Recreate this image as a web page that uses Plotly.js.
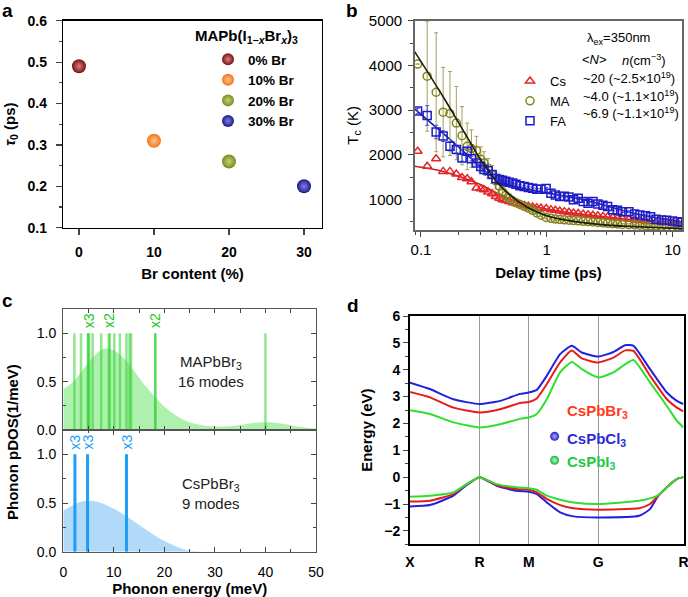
<!DOCTYPE html>
<html><head><meta charset="utf-8">
<script src="https://cdn.plot.ly/plotly-3.0.1.min.js"></script>
<style>html,body{margin:0;padding:0;background:#fff}#chart{width:688px;height:597px}</style>
</head><body><div id="chart"></div>
<script>
// ---------- Panel a ----------
const brContent = [0, 10, 20, 30];
const tau0 = [0.49, 0.31, 0.26, 0.20];
const brLabels = ['0% Br', '10% Br', '20% Br', '30% Br'];
const brColors = ['#7a1212', '#f27418', '#7c8a1c', '#1a1a8a'];
const brShine = ['#d88080', '#ffc58f', '#c8d07a', '#8080e0'];
const aLegendTitle = 'MAPb(I<sub>1−<i>x</i></sub>Br<sub><i>x</i></sub>)<sub>3</sub>';

// ---------- Panel b ----------
const delay = [0.094,0.112,0.132,0.150,0.170,0.191,0.212,0.233,0.252,0.276,0.299,0.317,0.342,0.368,0.394,0.420,0.444,0.472,0.502,0.535,0.569,0.612,0.663,0.714,0.771,0.833,0.900,0.990,1.08,1.17,1.27,1.38,1.50,1.63,1.78,1.95,2.13,2.33,2.55,2.80,3.05,3.35,3.65,4.0,4.5,5.0,5.5,6.1,6.7,7.4,8.2,9.0,10.0,11.0,12.0];
const tcCs = [2080,1745,1915,1630,1630,1570,1495,1465,1400,1260,1240,1220,1170,1130,1070,1030,995,980,960,930,910,890,870,850,835,820,810,800,775,760,745,730,715,700,690,675,660,650,640,625,615,600,590,575,560,545,535,520,510,500,490,480,470,460,450];
const tcMA = [4030,3760,3400,2955,2925,2710,2430,2190,2140,2095,1900,1820,1700,1560,1420,1300,1180,1090,1030,970,930,890,850,810,760,700,650,600,580,565,555,548,540,532,525,515,508,500,490,480,470,460,455,445,440,432,428,420,415,410,402,396,390,385,380];
const errMA = [0,1230,1330,1000,940,820,650,520,420,320,280,250,220,200,180,160,140,120,100,90,80,70,60,50,45,40,35,30,25,25,20,20,20,20,20,20,20,20,20,20,20,20,20,20,20,20,20,20,20,20,20,20,20,20,20];
const tcFA = [2980,2880,2510,2420,2190,2120,1930,2080,1915,1820,1740,1670,1645,1560,1470,1450,1430,1410,1390,1370,1345,1310,1290,1270,1255,1230,1230,1250,1140,1100,1070,1075,1060,995,1030,960,920,955,900,875,845,770,760,730,730,680,655,640,615,560,545,540,520,505,495];
const errFA = [60,220,150,120,100,80,70,60,50,50,40,40,30,30,25,25,20,20,20,20,20,20,20,20,20,20,20,20,20,20,20,20,20,20,20,20,20,20,20,20,20,20,20,20,20,20,20,20,20,20,20,20,20,20,20];
const fitT = [0.089,0.15,0.2,0.25,0.3,0.35,0.4,0.5,0.7,1,1.5,2,3,5,8,12];
const fitCs = [1745,1630,1520,1420,1330,1230,1150,1020,890,790,710,665,610,545,490,450];
const fitMA = [4310,3300,2710,2250,1880,1620,1400,1120,830,640,530,480,430,395,370,350];
const fitFA = [3030,2480,2170,1920,1720,1560,1440,1330,1230,1150,1060,990,860,690,580,500];
const bNames = ['Cs', 'MA', 'FA'];
const bDensity = ['~20 (~2.5×10<sup>19</sup>)', '~4.0 (~1.1×10<sup>19</sup>)', '~6.9 (~1.1×10<sup>19</sup>)'];

// ---------- Panel c ----------
const energyGrid = [0,2,4,6,8,10,12,14,16,18,20,22,24,26,28,30,32,34,36,38,40,42,44,46,48,50];
const dosMA = [0.42,0.50,0.63,0.76,0.84,0.82,0.74,0.61,0.47,0.35,0.24,0.16,0.10,0.065,0.045,0.035,0.035,0.045,0.06,0.075,0.08,0.075,0.06,0.04,0.025,0.015];
const dosCs = [0.42,0.48,0.52,0.52,0.49,0.44,0.38,0.31,0.24,0.17,0.11,0.06,0.02,0.005,0,0,0,0,0,0,0,0,0,0,0,0];
const modesMA = [2.2,3.5,4.9,4.9,5.1,5.8,7.5,9.0,9.2,10.1,11.2,12.5,13.1,13.4,18.2,18.2,40.0];
const modesCs = [2.3,4.8,12.5];
const degenMA = [5.0, 9.1, 18.2];
const degenMAText = ['x3', 'x2', 'x2'];
const degenCs = [2.3, 4.8, 12.5];
const degenCsText = ['x3', 'x3', 'x3'];

// ---------- Panel d ----------
const kLabels = ['X', 'R', 'M', 'G', 'R'];
const kTicks = [0, 0.707, 1.207, 1.914, 2.78];
const kCB = [0,0.203,0.441,0.707,0.916,1.119,1.207,1.289,1.390,1.526,1.645,1.747,1.914,2.068,2.187,2.272,2.441,2.611,2.713,2.78];
const cbCl = [3.52,3.28,2.90,2.72,2.84,3.10,3.15,3.25,3.77,4.58,4.89,4.64,4.49,4.66,4.91,4.89,4.02,3.15,2.84,2.72];
const cbBr = [3.17,2.97,2.59,2.41,2.53,2.76,2.80,2.93,3.46,4.27,4.72,4.42,4.27,4.45,4.72,4.70,3.77,2.90,2.59,2.45];
const cbI  = [2.49,2.35,2.04,1.85,1.97,2.17,2.22,2.35,2.90,3.90,4.29,4.02,3.71,3.90,4.20,4.36,3.52,2.65,2.10,1.85];
const kVB = [0,0.203,0.441,0.577,0.707,0.882,1.085,1.207,1.289,1.390,1.526,1.662,1.914,2.33,2.44,2.525,2.645,2.713,2.78];
const vbCl = [-1.09,-1.04,-0.69,-0.29,0,-0.32,-0.51,-0.54,-0.63,-0.94,-1.31,-1.46,-1.50,-1.44,-1.19,-0.69,-0.26,-0.07,0];
const vbBr = [-0.91,-0.88,-0.63,-0.27,0,-0.29,-0.44,-0.47,-0.57,-0.81,-1.04,-1.16,-1.21,-1.16,-1.00,-0.69,-0.26,-0.07,0];
const vbI  = [-0.73,-0.69,-0.57,-0.25,0,-0.26,-0.38,-0.41,-0.47,-0.69,-0.84,-0.94,-1.00,-0.88,-0.79,-0.67,-0.26,-0.07,0];
const dNames = ['CsPbBr<sub>3</sub>', 'CsPbCl<sub>3</sub>', 'CsPbI<sub>3</sub>'];
const dKeyK = [1.47, 1.47];
const dKeyE = [1.52, 0.63];

// ---------- Build ----------
const FONT = 'Liberation Sans, Arial, Helvetica, sans-serif';
const traces = [];

// a
brContent.forEach((x, i) => {
  traces.push({
    x: [x], y: [tau0[i]], xaxis: 'x', yaxis: 'y', type: 'scatter', mode: 'markers',
    name: brLabels[i], legend: 'legend',
    marker: {size: 14, color: brColors[i], gradient: {type: 'radial', color: brShine[i]}}
  });
});

// b
const bColors = ['#e3262a', '#84841c', '#1c1cc8'];
traces.push({x: fitT, y: fitCs, xaxis: 'x2', yaxis: 'y2', mode: 'lines', line: {color: '#c81e1e', width: 1.6, shape: 'spline'}, showlegend: false, hoverinfo: 'skip'});
traces.push({x: fitT, y: fitFA, xaxis: 'x2', yaxis: 'y2', mode: 'lines', line: {color: '#1a1aa8', width: 1.6, shape: 'spline'}, showlegend: false, hoverinfo: 'skip'});
traces.push({x: delay, y: tcCs, xaxis: 'x2', yaxis: 'y2', mode: 'markers', name: bNames[0], legend: 'legend2',
  marker: {symbol: 'triangle-up-open', size: 8, color: bColors[0], line: {width: 1.5}}});
traces.push({x: delay, y: tcMA, xaxis: 'x2', yaxis: 'y2', mode: 'markers', name: bNames[1], legend: 'legend2',
  error_y: {type: 'data', array: errMA, visible: true, color: '#a0a060', thickness: 1, width: 2},
  marker: {symbol: 'circle-open', size: 8, color: bColors[1], line: {width: 1.5}}});
traces.push({x: delay, y: tcFA, xaxis: 'x2', yaxis: 'y2', mode: 'markers', name: bNames[2], legend: 'legend2',
  error_y: {type: 'data', array: errFA, visible: true, color: '#5050d0', thickness: 1, width: 2},
  marker: {symbol: 'square-open', size: 8, color: bColors[2], line: {width: 1.5}}});
traces.push({x: fitT, y: fitMA, xaxis: 'x2', yaxis: 'y2', mode: 'lines', line: {color: '#1e1e08', width: 1.6, shape: 'spline'}, showlegend: false, hoverinfo: 'skip'});

// c
function sticks(vals) {
  const xs = [], ys = [];
  vals.forEach(v => { xs.push(v, v, null); ys.push(0, 1, null); });
  return {xs, ys};
}
traces.push({x: energyGrid, y: dosMA, xaxis: 'x3', yaxis: 'y3', mode: 'lines', fill: 'tozeroy',
  fillcolor: 'rgba(120,230,120,0.6)', line: {width: 0, shape: 'spline'}, showlegend: false, hoverinfo: 'skip'});
const sMA = sticks(modesMA);
traces.push({x: sMA.xs, y: sMA.ys, xaxis: 'x3', yaxis: 'y3', mode: 'lines',
  line: {color: 'rgba(50,210,50,0.55)', width: 2.5}, showlegend: false, hoverinfo: 'skip'});
traces.push({x: energyGrid, y: dosCs, xaxis: 'x4', yaxis: 'y4', mode: 'lines', fill: 'tozeroy',
  fillcolor: 'rgba(150,205,245,0.75)', line: {width: 0, shape: 'spline'}, showlegend: false, hoverinfo: 'skip'});
const sCs = sticks(modesCs);
traces.push({x: sCs.xs, y: sCs.ys, xaxis: 'x4', yaxis: 'y4', mode: 'lines',
  line: {color: '#1e9ef5', width: 3}, showlegend: false, hoverinfo: 'skip'});

// d
const dColors = {Cl: '#2020e0', Br: '#e61c1c', I: '#2ee02e'};
[[cbI, dColors.I], [cbBr, dColors.Br], [cbCl, dColors.Cl]].forEach(([e, c]) => {
  traces.push({x: kCB, y: e, xaxis: 'x5', yaxis: 'y5', mode: 'lines', line: {color: c, width: 2, shape: 'spline', smoothing: 0.5}, showlegend: false, hoverinfo: 'skip'});
});
[[vbCl, dColors.Cl], [vbBr, dColors.Br], [vbI, dColors.I]].forEach(([e, c]) => {
  traces.push({x: kVB, y: e, xaxis: 'x5', yaxis: 'y5', mode: 'lines', line: {color: c, width: 2, shape: 'spline', smoothing: 0.5}, showlegend: false, hoverinfo: 'skip'});
});
traces.push({x: dKeyK, y: dKeyE, xaxis: 'x5', yaxis: 'y5', mode: 'markers', showlegend: false, hoverinfo: 'skip',
  marker: {size: 9, color: ['#2020c8', '#20b040'], gradient: {type: 'radial', color: ['#b0b0ff', '#b0ffc0']}}});

// ---------- Layout ----------
const px = v => v / 688, py = v => 1 - v / 597;
const tickFontB = {family: FONT, size: 14, color: '#000', weight: 'bold'};
const tickFont = {family: FONT, size: 14, color: '#000'};
const titleB = {family: FONT, size: 15, color: '#000', weight: 'bold'};

const annotations = [
  {text: 'a', x: px(0), y: py(10), xref: 'paper', yref: 'paper', xanchor: 'left', yanchor: 'middle', showarrow: false, font: {family: FONT, size: 19, weight: 'bold'}},
  {text: 'b', x: px(344), y: py(10), xref: 'paper', yref: 'paper', xanchor: 'left', yanchor: 'middle', showarrow: false, font: {family: FONT, size: 19, weight: 'bold'}},
  {text: 'c', x: px(0), y: py(300), xref: 'paper', yref: 'paper', xanchor: 'left', yanchor: 'middle', showarrow: false, font: {family: FONT, size: 19, weight: 'bold'}},
  {text: 'd', x: px(345), y: py(305), xref: 'paper', yref: 'paper', xanchor: 'left', yanchor: 'middle', showarrow: false, font: {family: FONT, size: 19, weight: 'bold'}},
  // a legend title
  {text: aLegendTitle, x: px(193), y: py(37), xref: 'paper', yref: 'paper', xanchor: 'left', yanchor: 'middle', showarrow: false, font: {family: FONT, size: 15, weight: 'bold'}},
  // b legend header & columns
  {text: 'λ<sub>ex</sub>=350nm', x: px(585), y: py(39), xref: 'paper', yref: 'paper', xanchor: 'left', yanchor: 'middle', showarrow: false, font: {family: FONT, size: 13}},
  {text: '&lt;<i>N</i>&gt;', x: px(580), y: py(60), xref: 'paper', yref: 'paper', xanchor: 'left', yanchor: 'middle', showarrow: false, font: {family: FONT, size: 13}},
  {text: '<i>n</i>(cm<sup>−3</sup>)', x: px(620), y: py(60), xref: 'paper', yref: 'paper', xanchor: 'left', yanchor: 'middle', showarrow: false, font: {family: FONT, size: 13}},
  // c
  {text: 'Phonon pDOS(1/meV)', x: px(12), y: py(442), xref: 'paper', yref: 'paper', xanchor: 'center', yanchor: 'middle', textangle: -90, showarrow: false, font: titleB},
  {text: 'MAPbBr<sub>3</sub><br>16 modes', x: 29.3, y: 0.6, xref: 'x3', yref: 'y3', xanchor: 'center', yanchor: 'middle', showarrow: false, font: {family: FONT, size: 15, color: '#222'}},
  {text: 'CsPbBr<sub>3</sub><br>9 modes', x: 29.3, y: 0.6, xref: 'x4', yref: 'y4', xanchor: 'center', yanchor: 'middle', showarrow: false, font: {family: FONT, size: 15, color: '#222'}}
];
bDensity.forEach((t, i) => annotations.push({text: t, x: px(581), y: py(78 + 17.5 * i), xref: 'paper', yref: 'paper', xanchor: 'left', yanchor: 'middle', showarrow: false, font: {family: FONT, size: 13}}));
degenMA.forEach((e, i) => annotations.push({text: degenMAText[i], x: e, y: 1.03, xref: 'x3', yref: 'y3', textangle: -90, xanchor: 'center', yanchor: 'bottom', showarrow: false, font: {family: FONT, size: 14, color: '#22c822'}}));
degenCs.forEach((e, i) => annotations.push({text: degenCsText[i], x: e, y: 1.03, xref: 'x4', yref: 'y4', textangle: -90, xanchor: 'center', yanchor: 'bottom', showarrow: false, font: {family: FONT, size: 14, color: '#1e9ef5'}}));
const dLabelColors = ['#ff3a1a', '#2a2ad8', '#22c844'];
const dLabelE = [2.45, 1.42, 0.55];
dNames.forEach((t, i) => annotations.push({text: t, x: 1.58, y: dLabelE[i], xref: 'x5', yref: 'y5', xanchor: 'left', yanchor: 'middle', showarrow: false, font: {family: FONT, size: 15, weight: 'bold', color: dLabelColors[i]}}));

const layout = {
  width: 688, height: 597, margin: {l: 0, r: 0, t: 0, b: 0},
  paper_bgcolor: '#fff', plot_bgcolor: 'rgba(0,0,0,0)',
  font: {family: FONT, color: '#000'},
  showlegend: true,
  // a
  xaxis: {domain: [px(63.3), px(321.7)], range: [-2.09, 32.36], anchor: 'y', tickvals: [0, 10, 20, 30], ticks: 'outside', ticklen: 6, tickwidth: 1.2,
    ticklabelstandoff: 5,
    showline: true, linecolor: '#000', linewidth: 1.5, mirror: true, showgrid: false, zeroline: false, tickfont: tickFontB,
    title: {text: 'Br content (%)', font: titleB, standoff: 9}},
  yaxis: {domain: [py(227.7), py(20.7)], range: [0.1, 0.6], anchor: 'x', dtick: 0.1, tickformat: '.1f', ticks: 'outside', ticklen: 6, tickwidth: 1.2,
    ticklabelstandoff: 6,
    minor: {dtick: 0.05, ticks: 'outside', ticklen: 3, showgrid: false},
    showline: true, linecolor: '#000', linewidth: 1.5, mirror: true, showgrid: false, zeroline: false, tickfont: tickFontB,
    title: {text: '<i>τ</i><sub>0</sub> (ps)', font: {family: FONT, size: 15, color: '#000', weight: 'bold'}, standoff: 8}},
  // b
  xaxis2: {domain: [px(414.7), px(682.3)], type: 'log', range: [-1.05, 1.078], anchor: 'y2', dtick: 1, ticks: 'outside', ticklen: 5,
    minor: {dtick: 'D1', ticks: 'outside', ticklen: 3, showgrid: false},
    showline: true, linecolor: '#666', linewidth: 1.5, mirror: true, showgrid: false, zeroline: false, tickfont: {family: FONT, size: 15},
    title: {text: 'Delay time (ps)', font: titleB, standoff: 11}},
  yaxis2: {domain: [py(230), py(20.7)], range: [320, 5000], anchor: 'x2', tick0: 0, dtick: 1000, ticks: 'outside', ticklen: 5,
    ticklabelstandoff: 3,
    minor: {dtick: 500, ticks: 'outside', ticklen: 3, showgrid: false},
    showline: true, linecolor: '#666', linewidth: 1.5, mirror: true, showgrid: false, zeroline: false, tickfont: {family: FONT, size: 15},
    title: {text: 'T<sub>c</sub> (K)', font: {family: FONT, size: 15, color: '#000'}, standoff: 6}},
  // c top
  xaxis3: {domain: [px(63.3), px(316)], range: [0, 50], anchor: 'y3', dtick: 5, ticks: 'inside', ticklen: 4, showticklabels: false,
    showline: true, linecolor: '#555', linewidth: 1.3, mirror: 'ticks', showgrid: false, zeroline: false},
  yaxis3: {domain: [py(430), py(309)], range: [0, 1.25], anchor: 'x3', dtick: 0.5, tickformat: '.1f', ticks: 'inside', ticklen: 5,
    ticklabelstandoff: 3,
    minor: {dtick: 0.25, ticks: 'inside', ticklen: 3, showgrid: false},
    showline: true, linecolor: '#555', linewidth: 1.3, mirror: 'ticks', showgrid: false, zeroline: false, tickfont: tickFont},
  // c bottom
  xaxis4: {domain: [px(63.3), px(316)], range: [0, 50], anchor: 'y4', dtick: 10, ticks: 'inside', ticklen: 5,
    ticklabelstandoff: 7,
    minor: {dtick: 5, ticks: 'inside', ticklen: 3, showgrid: false},
    showline: true, linecolor: '#555', linewidth: 1.3, mirror: 'ticks', showgrid: false, zeroline: false, tickfont: tickFont,
    title: {text: 'Phonon energy (meV)', font: titleB, standoff: 8}},
  yaxis4: {domain: [py(551.7), py(430)], range: [0, 1.25], anchor: 'x4', dtick: 0.5, tickformat: '.1f', ticks: 'inside', ticklen: 5,
    ticklabelstandoff: 3,
    minor: {dtick: 0.25, ticks: 'inside', ticklen: 3, showgrid: false},
    showline: true, linecolor: '#555', linewidth: 1.3, mirror: 'ticks', showgrid: false, zeroline: false, tickfont: tickFont},
  // d
  xaxis5: {domain: [px(410), px(683.5)], range: [0, 2.7805], anchor: 'y5', tickvals: kTicks, ticktext: kLabels, ticks: '',
    ticklabelstandoff: 4, ticklabeloverflow: 'allow',
    showline: true, linecolor: '#000', linewidth: 2, mirror: true, showgrid: true, gridcolor: '#9a9a9a', gridwidth: 1.3, zeroline: false, tickfont: tickFontB},
  yaxis5: {domain: [py(544.3), py(316)], range: [-2.5, 6], anchor: 'x5', dtick: 1, ticks: 'outside', ticklen: 5,
    minor: {dtick: 0.5, ticks: 'outside', ticklen: 3, showgrid: false},
    showline: true, linecolor: '#000', linewidth: 2, mirror: true, showgrid: false, zeroline: false, tickfont: tickFontB,
    title: {text: 'Energy (eV)', font: titleB, standoff: 8}},
  legend: {x: px(208), y: py(44), xanchor: 'left', yanchor: 'top', bgcolor: 'rgba(0,0,0,0)', borderwidth: 0,
    font: {family: FONT, size: 13.5, weight: 'bold'}, tracegroupgap: 0, itemsizing: 'constant'},
  legend2: {x: px(510), y: py(66), xanchor: 'left', yanchor: 'top', bgcolor: 'rgba(0,0,0,0)', borderwidth: 0,
    font: {family: FONT, size: 13}, tracegroupgap: 0},
  annotations: annotations
};

Plotly.newPlot('chart', traces, layout, {displayModeBar: false, staticPlot: true});
</script>
</body></html>
